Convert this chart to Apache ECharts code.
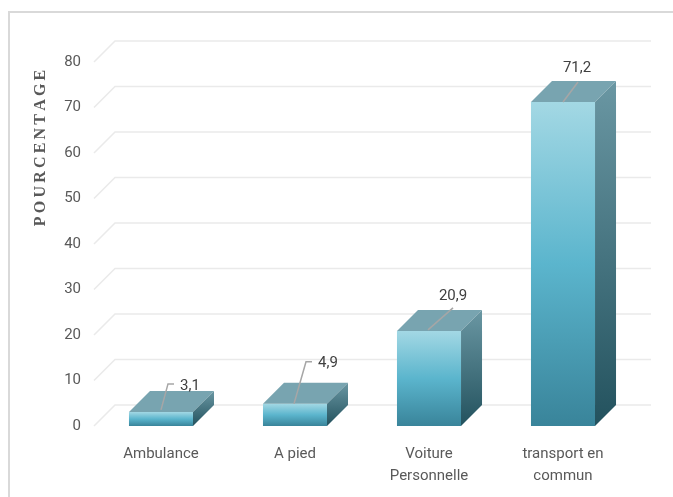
<!DOCTYPE html>
<html>
<head>
<meta charset="utf-8">
<script src="https://cdn.jsdelivr.net/npm/echarts@6/dist/echarts.min.js"></script>
<style>html,body{margin:0;padding:0;background:#fff;}#c{width:673px;height:497px;}</style>
</head>
<body>
<div id="c"></div>
<script>
// ---- data ----
const categories = ['Ambulance', 'A pied', 'Voiture\nPersonnelle', 'transport en\ncommun'];
const values = [3.1, 4.9, 20.9, 71.2];
const valueLabels = ['3,1', '4,9', '20,9', '71,2'];
const yTicks = [0, 10, 20, 30, 40, 50, 60, 70, 80];
const yTitle = 'POURCENTAGE';

// ---- styling (not data) ----
const DX = 21, DY = 21;
const labelFont = "'Roboto', sans-serif";
const leaderPaths = [
  [[0, -2], [7, -28], [13, -28]],
  [[-1, 0], [11, -42], [17, -42]],
  [[-1, -1], [24, -23]],
  [[0, 0], [15, -20]]
];
const labelPos = [
  { off: [19, -26], align: 'left' },
  { off: [23, -40], align: 'left' },
  { off: [24, -35], align: 'center' },
  { off: [14, -34], align: 'center' }
];

const chart = echarts.init(document.getElementById('c'), null, { renderer: 'canvas' });

const option = {
  backgroundColor: '#ffffff',
  animation: false,
  grid: { left: 94, right: 43, top: 62, bottom: 71, containLabel: false },
  xAxis: {
    type: 'category',
    data: categories,
    axisLine: { show: false },
    axisTick: { show: false },
    axisLabel: { color: '#595959', fontFamily: labelFont, fontSize: 15, margin: 17, lineHeight: 22 },
    splitLine: { show: false }
  },
  yAxis: {
    type: 'value',
    min: 0, max: 80, interval: 10,
    axisLine: { show: false },
    axisTick: { show: false },
    splitLine: { show: false },
    axisLabel: { color: '#595959', fontFamily: labelFont, fontSize: 15, margin: 13 }
  },
  graphic: [
    { type: 'rect', shape: { x: 9, y: 12, width: 720, height: 600 }, style: { fill: 'none', stroke: '#d9d9d9', lineWidth: 2 }, z: 0 },
    { type: 'text', x: 41, y: 148, rotation: Math.PI / 2, style: {
        text: yTitle.split('').join('\u2009'), fill: '#595959',
        font: "bold 16px 'Liberation Serif', 'DejaVu Serif', serif",
        align: 'center', verticalAlign: 'middle' } }
  ],
  series: [
    {
      type: 'custom',
      z: 1,
      silent: true,
      data: yTicks.map(v => [0, v]),
      renderItem: function (params, api) {
        const v = api.value(1);
        const cs = params.coordSys;
        const y = api.coord([0, v])[1];
        return {
          type: 'polyline',
          shape: { points: [[cs.x, y], [cs.x + DX, y - DY], [cs.x + cs.width + DX, y - DY]] },
          style: { stroke: '#eaeaea', lineWidth: 1.5, fill: 'none' }
        };
      }
    },
    {
      type: 'custom',
      z: 3,
      silent: true,
      data: values.map((v, i) => [i, v]),
      renderItem: function (params, api) {
        const i = api.value(0), v = api.value(1);
        const topPt = api.coord([i, v]);
        const basePt = api.coord([i, 0]);
        const w = api.size([1, 0])[0] * 0.478;
        const x = topPt[0] - w / 2, top = topPt[1], bot = basePt[1];
        const cx = topPt[0];
        const lp = leaderPaths[i].map(p => [cx + p[0], top + p[1]]);
        const lb = labelPos[i];
        return {
          type: 'group',
          children: [
            { type: 'rect', shape: { x: x, y: top, width: w, height: bot - top },
              style: { fill: { type: 'linear', x: 0, y: 0, x2: 0, y2: 1, colorStops: [
                { offset: 0, color: '#a3d8e4' }, { offset: 0.5, color: '#5bb5cd' }, { offset: 1, color: '#39849a' }] } } },
            { type: 'polygon', shape: { points: [[x, top], [x + DX, top - DY], [x + w + DX, top - DY], [x + w, top]] },
              style: { fill: '#78a4b0' } },
            { type: 'polygon', shape: { points: [[x + w, top], [x + w + DX, top - DY], [x + w + DX, bot - DY], [x + w, bot]] },
              style: { fill: { type: 'linear', x: 0, y: 0, x2: 0, y2: 1, colorStops: [
                { offset: 0, color: '#6a97a3' }, { offset: 1, color: '#23525e' }] } } },
            { type: 'polyline', shape: { points: lp }, style: { stroke: '#a6a6a6', lineWidth: 1.5, fill: 'none' } },
            { type: 'text', x: cx + lb.off[0], y: top + lb.off[1],
              style: { text: valueLabels[i], fill: '#404040', font: "15px " + labelFont, align: lb.align, verticalAlign: 'middle' } }
          ]
        };
      }
    }
  ]
};
chart.setOption(option);
</script>
</body>
</html>
